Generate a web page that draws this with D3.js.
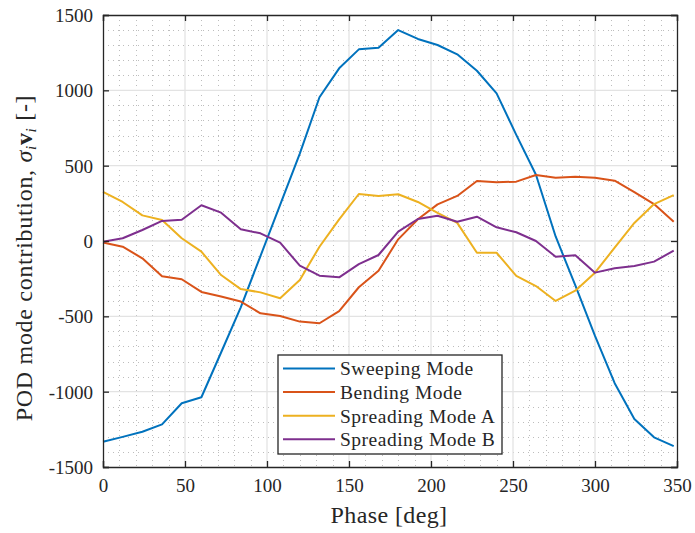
<!DOCTYPE html>
<html>
<head>
<meta charset="utf-8">
<script src="https://cdn.jsdelivr.net/npm/d3@7"></script>
<style>
  html, body { margin: 0; padding: 0; background: #fff; }
  svg { display: block; }
  text { font-family: "Liberation Serif", "DejaVu Serif", serif; fill: #262626; }
</style>
</head>
<body>
<svg id="chart" width="695" height="533"></svg>
<script>
// Phase angles (deg), sampled every 12 degrees
const phase = [0, 12, 24, 36, 48, 60, 72, 84, 96, 108, 120, 132, 144, 156, 168,
               180, 192, 204, 216, 228, 240, 252, 264, 276, 288, 300, 312, 324, 336, 348];

const sweeping = [-1332, -1300, -1266, -1217, -1077, -1037, -740, -440, -100, 240, 580, 954, 1146, 1272, 1283,
                  1400, 1341, 1301, 1239, 1130, 980, 704, 440, 30, -295, -630, -944, -1181, -1303, -1361];
const bending = [-10, -38, -115, -234, -254, -338, -369, -402, -480, -498, -535, -546, -465, -307, -197,
                 11, 144, 243, 299, 398, 390, 394, 438, 420, 427, 420, 400, 325, 245, 128];
const spreadingA = [326, 259, 170, 140, 18, -71, -226, -319, -341, -380, -259, -38, 144, 312, 299,
                    310, 259, 186, 120, -78, -78, -232, -299, -398, -330, -210, -44, 120, 245, 305];
const spreadingB = [-5, 18, 73, 133, 141, 237, 188, 78, 51, -11, -164, -230, -241, -153, -93,
                    62, 146, 168, 128, 161, 91, 58, 0, -104, -95, -210, -181, -166, -137, -64];

const seriesNames = ["Sweeping Mode", "Bending Mode", "Spreading Mode A", "Spreading Mode B"];
const seriesColors = ["#0072BD", "#D95319", "#EDB120", "#7E2F8E"];
const seriesValues = [sweeping, bending, spreadingA, spreadingB];

const xTicks = [0, 50, 100, 150, 200, 250, 300, 350];
const yTicks = [-1500, -1000, -500, 0, 500, 1000, 1500];

const svg = d3.select("#chart");
const m = { left: 103, right: 677, top: 15, bottom: 467 };

const x = d3.scaleLinear().domain([0, 350]).range([m.left, m.right]);
const y = d3.scaleLinear().domain([-1500, 1500]).range([m.bottom, m.top]);

// Minor grid (dotted)
const gMinor = svg.append("g");
gMinor.selectAll("line.mx").data(d3.range(0, 351, 10).filter(v => v % 50 !== 0))
  .join("line")
  .attr("x1", d => Math.round(x(d)) + 0.5).attr("x2", d => Math.round(x(d)) + 0.5)
  .attr("y1", m.top).attr("y2", m.bottom)
  .attr("stroke", "#bdbdbd").attr("stroke-width", 1).attr("stroke-dasharray", "1,4");
gMinor.selectAll("line.my").data(d3.range(-1500, 1501, 100).filter(v => v % 500 !== 0))
  .join("line")
  .attr("y1", d => Math.round(y(d)) + 0.5).attr("y2", d => Math.round(y(d)) + 0.5)
  .attr("x1", m.left).attr("x2", m.right)
  .attr("stroke", "#bdbdbd").attr("stroke-width", 1).attr("stroke-dasharray", "1,4");

// Major grid
const gMajor = svg.append("g");
gMajor.selectAll("line.gx").data(xTicks.slice(1, -1)).join("line")
  .attr("x1", d => x(d)).attr("x2", d => x(d))
  .attr("y1", m.top).attr("y2", m.bottom)
  .attr("stroke", "#e3e3e3").attr("stroke-width", 1.3);
gMajor.selectAll("line.gy").data(yTicks.slice(1, -1)).join("line")
  .attr("y1", d => y(d)).attr("y2", d => y(d))
  .attr("x1", m.left).attr("x2", m.right)
  .attr("stroke", "#e3e3e3").attr("stroke-width", 1.3);

// Data lines
const line = d3.line().x((d, i) => x(phase[i])).y(d => y(d));
seriesValues.forEach((vals, k) => {
  svg.append("path").datum(vals)
    .attr("d", line)
    .attr("fill", "none")
    .attr("stroke", seriesColors[k])
    .attr("stroke-width", 2)
    .attr("stroke-linejoin", "round");
});

// Axes (ticks inward, box on all four sides)
const axisColor = "#262626";
const tickLen = 6;
const fmt = d => String(d);   // plain hyphen-minus for negatives
const bottomAxis = svg.append("g").attr("transform", `translate(0,${m.bottom})`)
  .call(d3.axisBottom(x).tickValues(xTicks).tickSize(-tickLen).tickPadding(12).tickFormat(fmt));
const topAxis = svg.append("g").attr("transform", `translate(0,${m.top})`)
  .call(d3.axisTop(x).tickValues(xTicks).tickSize(-tickLen).tickFormat(""));
const leftAxis = svg.append("g").attr("transform", `translate(${m.left},0)`)
  .call(d3.axisLeft(y).tickValues(yTicks).tickSize(-tickLen).tickPadding(10).tickFormat(fmt));
const rightAxis = svg.append("g").attr("transform", `translate(${m.right},0)`)
  .call(d3.axisRight(y).tickValues(yTicks).tickSize(-tickLen).tickFormat(""));

[bottomAxis, topAxis, leftAxis, rightAxis].forEach(g => {
  g.select(".domain").attr("stroke", axisColor).attr("stroke-width", 1.3);
  g.selectAll(".tick line").attr("stroke", axisColor).attr("stroke-width", 1.3);
  g.selectAll(".tick text").attr("fill", axisColor).style("font-size", "19px")
    .style("font-family", "'Liberation Serif', serif");
});
leftAxis.selectAll(".tick text").attr("dy", "0.35em");
bottomAxis.selectAll(".tick text").attr("dy", "0.71em");

// Axis labels
svg.append("text")
  .attr("x", 389).attr("y", 523)
  .attr("text-anchor", "middle")
  .style("font-size", "24px")
  .style("letter-spacing", "0.4px")
  .text("Phase [deg]");

const yl = svg.append("text")
  .attr("transform", `translate(32,258) rotate(-90)`)
  .attr("text-anchor", "middle")
  .style("font-size", "24px")
  .style("letter-spacing", "0.7px");
yl.append("tspan").text("POD mode contribution, ");
yl.append("tspan").style("font-style", "italic").text("σ");
yl.append("tspan").attr("dy", 4).style("font-size", "15px").style("font-style", "italic").text("i");
yl.append("tspan").attr("dy", -4).style("font-weight", "bold").text("v");
yl.append("tspan").attr("dy", 4).style("font-size", "15px").style("font-style", "italic").text("i");
yl.append("tspan").attr("dy", -4).text(" [-]");

// Legend
const lg = svg.append("g");
const lgX = 278, lgY = 355, lgW = 224, lgH = 99;
lg.append("rect").attr("x", lgX).attr("y", lgY).attr("width", lgW).attr("height", lgH)
  .attr("fill", "#fff").attr("stroke", axisColor).attr("stroke-width", 1.3);
seriesNames.forEach((name, k) => {
  const ry = lgY + 13.5 + k * 23.6;
  lg.append("line").attr("x1", lgX + 5).attr("x2", lgX + 57)
    .attr("y1", ry).attr("y2", ry)
    .attr("stroke", seriesColors[k]).attr("stroke-width", 2);
  lg.append("text").attr("x", lgX + 62).attr("y", ry).attr("dy", "0.35em")
    .style("font-size", "19.5px").style("letter-spacing", "0.5px").text(name);
});
</script>
</body>
</html>
